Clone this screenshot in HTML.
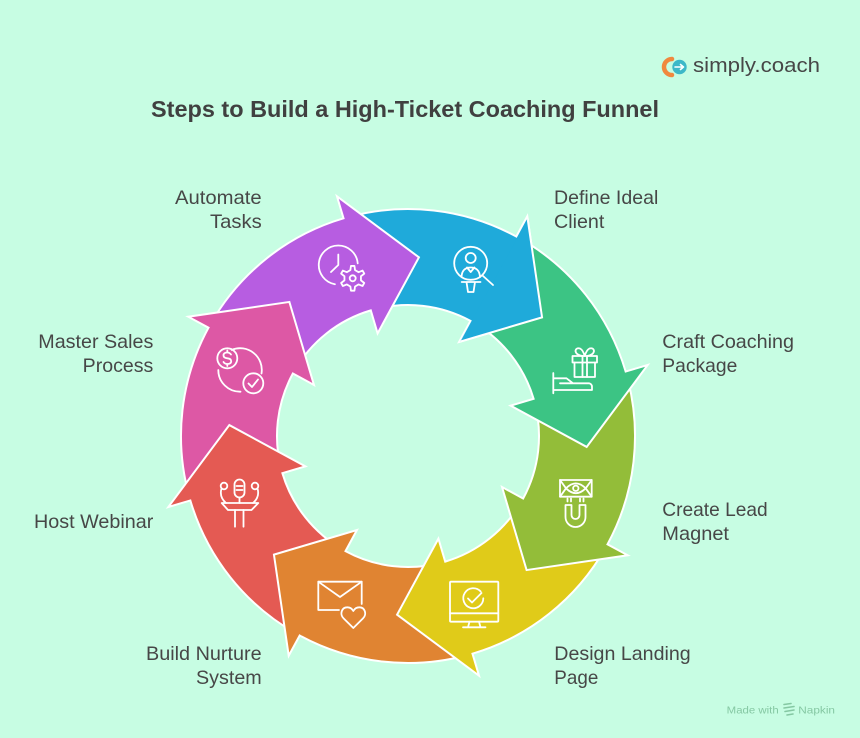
<!DOCTYPE html>
<html>
<head>
<meta charset="utf-8">
<style>
  html, body { margin: 0; padding: 0; background: #c7fde3; }
  svg { display: block; }
  text { font-family: "Liberation Sans", Arial, sans-serif; }
</style>
</head>
<body>
<svg width="860" height="738" viewBox="0 0 860 738" xmlns="http://www.w3.org/2000/svg">
  <rect x="0" y="0" width="860" height="738" fill="#c7fde3"/>
  <defs>
    <clipPath id="hc">
      <polygon points="0,0 282.6,-100.6 340,-20 340,40 0,5"/>
    </clipPath>
  </defs>

  <!-- Logo -->
  <path d="M672 59 A8 8 0 0 0 672 75" stroke="#f0883e" stroke-width="4.5" fill="none" stroke-linecap="round"/>
  <circle cx="679.5" cy="67" r="7.2" fill="#3db8c8"/>
  <path d="M675 67 H683.5 M680.5 64.5 L683.5 67 L680.5 69.5" stroke="#ffffff" stroke-width="1.6" fill="none" stroke-linecap="round" stroke-linejoin="round"/>
  <text x="693" y="72" font-size="20" fill="#474747" textLength="127" lengthAdjust="spacingAndGlyphs">simply.coach</text>

  <!-- Title -->
  <text x="151" y="117" font-size="23" font-weight="bold" fill="#404040" textLength="508" lengthAdjust="spacingAndGlyphs">Steps to Build a High-Ticket Coaching Funnel</text>

  <!-- Arrows -->
  <g stroke="#ffffff" stroke-width="2" stroke-linejoin="miter">
    <path fill="#1faada" transform="translate(408 436) rotate(-41.5)" d="M57.43,-117.74 L99.51,-204.03 A227,227 0 0 1 213.31,-77.64 L234.92,-85.51 L179,0 L100.55,-36.60 L123.10,-44.81 A131,131 0 0 0 57.43,-117.74 Z"/>
    <path fill="#b75de1" transform="translate(408 436) rotate(-86.5)" d="M57.43,-117.74 L99.51,-204.03 A227,227 0 0 1 213.31,-77.64 L234.92,-85.51 L179,0 L100.55,-36.60 L123.10,-44.81 A131,131 0 0 0 57.43,-117.74 Z"/>
    <path fill="#dd58a5" transform="translate(408 436) rotate(228.5)" d="M57.43,-117.74 L99.51,-204.03 A227,227 0 0 1 213.31,-77.64 L234.92,-85.51 L179,0 L100.55,-36.60 L123.10,-44.81 A131,131 0 0 0 57.43,-117.74 Z"/>
    <path fill="#e45a53" transform="translate(408 436) rotate(183.5)" d="M57.43,-117.74 L99.51,-204.03 A227,227 0 0 1 213.31,-77.64 L234.92,-85.51 L179,0 L100.55,-36.60 L123.10,-44.81 A131,131 0 0 0 57.43,-117.74 Z"/>
    <path fill="#e08432" transform="translate(408 436) rotate(138.5)" d="M57.43,-117.74 L99.51,-204.03 A227,227 0 0 1 213.31,-77.64 L234.92,-85.51 L179,0 L100.55,-36.60 L123.10,-44.81 A131,131 0 0 0 57.43,-117.74 Z"/>
    <path fill="#e0cb19" transform="translate(408 436) rotate(93.5)" d="M57.43,-117.74 L99.51,-204.03 A227,227 0 0 1 213.31,-77.64 L234.92,-85.51 L179,0 L100.55,-36.60 L123.10,-44.81 A131,131 0 0 0 57.43,-117.74 Z"/>
    <path fill="#93bd39" transform="translate(408 436) rotate(48.5)" d="M57.43,-117.74 L99.51,-204.03 A227,227 0 0 1 213.31,-77.64 L234.92,-85.51 L179,0 L100.55,-36.60 L123.10,-44.81 A131,131 0 0 0 57.43,-117.74 Z"/>
    <path fill="#3cc484" transform="translate(408 436) rotate(3.5)" d="M57.43,-117.74 L99.51,-204.03 A227,227 0 0 1 213.31,-77.64 L234.92,-85.51 L179,0 L100.55,-36.60 L123.10,-44.81 A131,131 0 0 0 57.43,-117.74 Z"/>
    <g transform="translate(408 436) rotate(-41.5)">
      <g clip-path="url(#hc)">
        <path fill="#1faada" d="M57.43,-117.74 L99.51,-204.03 A227,227 0 0 1 213.31,-77.64 L234.92,-85.51 L179,0 L100.55,-36.60 L123.10,-44.81 A131,131 0 0 0 57.43,-117.74 Z"/>
      </g>
    </g>
  </g>

  <!-- Icons -->
  <g stroke="#ffffff" stroke-width="1.8" fill="none" stroke-linecap="round" stroke-linejoin="round">
    <!-- Automate: clock + gear -->
    <path d="M357.7 263.3 A19.5 19.5 0 1 0 334.9 284.2"/>
    <path d="M338.3 254.5 V265 L331 272"/>
    <g transform="translate(352.7 278.3)">
      <path d="M-2.34,-8.17 L-1.74,-12.38 L1.74,-12.38 L2.34,-8.17 L5.90,-6.11 L9.85,-7.70 L11.59,-4.68 L8.25,-2.06 L8.25,2.06 L11.59,4.68 L9.85,7.70 L5.90,6.11 L2.34,8.17 L1.74,12.38 L-1.74,12.38 L-2.34,8.17 L-5.90,6.11 L-9.85,7.70 L-11.59,4.68 L-8.25,2.06 L-8.25,-2.06 L-11.59,-4.68 L-9.85,-7.70 L-5.90,-6.11 Z"/>
      <circle cx="0" cy="0" r="3"/>
    </g>

    <!-- Define Ideal Client: person in magnifier -->
    <circle cx="470.7" cy="263.3" r="16.5"/>
    <path d="M482.5 275.5 L493 285"/>
    <circle cx="470.7" cy="258" r="5"/>
    <path d="M461.5 277 Q462 267.5 470.7 267.5 Q479.4 267.5 480 277"/>
    <path d="M467 267.5 L470.7 272 L474.4 267.5"/>
    <path d="M461.7 282 H480.5 M466.5 282 L468 292 H473.5 L475 282"/>

    <!-- Craft Coaching Package: gift + hand -->
    <rect x="572.5" y="356" width="24.5" height="6.5"/>
    <path d="M574.5 362.5 V377 H595 V362.5"/>
    <path d="M582.5 356 V377 M587 356 V377"/>
    <path d="M582.5 356 Q576 355 575.5 351 Q576 347.5 580 348.5 Q583 350 584.7 356 Q586.5 350 589.5 348.5 Q593.5 347.5 594 351 Q593.5 355 587 356"/>
    <path d="M553.3 373 V393.3 M553.3 378.3 H566.5 L573 383.3 H589 Q592 384 592 387 V390 H553.3 M560 383.3 H573"/>

    <!-- Create Lead Magnet: money eye + magnet -->
    <rect x="560" y="480" width="31.7" height="16.7"/>
    <path d="M560 480 L566 488.3 L560 496.7 M591.7 480 L585.7 488.3 L591.7 496.7 M566 488.3 Q575.8 478.5 585.7 488.3 Q575.8 498 566 488.3"/>
    <circle cx="575.8" cy="488.3" r="2.7"/>
    <path d="M565.5 505 V517 A10 10 0 0 0 585.5 517 V505 H579.5 V515 A4 4 0 0 1 571.5 515 V505 Z"/>
    <path d="M567.5 498.5 V501.5 M571 498.5 V501.5 M580 498.5 V501.5 M583.5 498.5 V501.5"/>

    <!-- Design Landing Page: monitor with check -->
    <rect x="450" y="581.7" width="48.3" height="40" rx="1"/>
    <path d="M450 613.3 H498.3 M469.5 621.7 L468 627.3 M479 621.7 L480.5 627.3 M463 627.3 H485.5"/>
    <path d="M480.7 591.5 A10 10 0 1 0 483.3 598.3"/>
    <path d="M468 598.5 L472 602.5 L481.5 593"/>

    <!-- Build Nurture System: envelope + heart -->
    <path d="M339 610 H318.3 V581.7 H361.7 V604"/>
    <path d="M318.3 581.7 L340 597 L361.7 581.7"/>
    <path d="M353.3 628 L343.6 618.4 C339.5 614.3 341.5 607.3 347.3 607.3 C350.3 607.3 352.3 609.2 353.3 611 C354.3 609.2 356.3 607.3 359.3 607.3 C365.1 607.3 367.1 614.3 363 618.4 Z"/>

    <!-- Host Webinar: mic podium -->
    <rect x="234.5" y="479.5" width="10" height="18" rx="5"/>
    <path d="M236.5 486 H242.5 M236.5 490 H242.5"/>
    <path d="M239.5 497.5 V503"/>
    <path d="M221.7 503 H258.3 L251.5 510 H228 Z"/>
    <path d="M235 510 V526.7 M243.5 510 V526.7"/>
    <circle cx="224" cy="486" r="3.3"/>
    <circle cx="255" cy="486" r="3.3"/>
    <path d="M221.5 488.5 Q219 497 226 503 M257.5 488.5 Q260 497 253 503"/>

    <!-- Master Sales Process: dollar + check cycle -->
    <circle cx="227.3" cy="358.3" r="10"/>
    <path d="M231 354.5 Q229.5 352.5 227.3 352.5 Q223.5 352.5 223.5 355.4 Q223.5 358 227.3 358.3 Q231.2 358.6 231.2 361.3 Q231.2 364 227.3 364 Q224.8 364 223.5 362 M227.3 350.5 V352.5 M227.3 364 V366"/>
    <circle cx="253.3" cy="383.3" r="10"/>
    <path d="M248.5 383.5 L252 387 L258 379.5"/>
    <path d="M231.7 349.9 A21.7 21.7 0 0 1 261.5 373.5 M218.3 370 A21.7 21.7 0 0 0 240.5 391.7"/>
  </g>

  <!-- Labels -->
  <g font-size="19.5" fill="#474747">
    <text x="175" y="204" textLength="86.7" lengthAdjust="spacingAndGlyphs">Automate</text>
    <text x="210" y="228" textLength="51.7" lengthAdjust="spacingAndGlyphs">Tasks</text>
    <text x="554" y="204" textLength="104.3" lengthAdjust="spacingAndGlyphs">Define Ideal</text>
    <text x="554" y="228" textLength="50.3" lengthAdjust="spacingAndGlyphs">Client</text>
    <text x="38.3" y="348" textLength="115" lengthAdjust="spacingAndGlyphs">Master Sales</text>
    <text x="82.7" y="372" textLength="70.6" lengthAdjust="spacingAndGlyphs">Process</text>
    <text x="662.3" y="348" textLength="131.7" lengthAdjust="spacingAndGlyphs">Craft Coaching</text>
    <text x="662.3" y="372" textLength="75" lengthAdjust="spacingAndGlyphs">Package</text>
    <text x="34" y="528" textLength="119.3" lengthAdjust="spacingAndGlyphs">Host Webinar</text>
    <text x="662.3" y="516" textLength="105.4" lengthAdjust="spacingAndGlyphs">Create Lead</text>
    <text x="662.3" y="540" textLength="66.7" lengthAdjust="spacingAndGlyphs">Magnet</text>
    <text x="146" y="660" textLength="115.7" lengthAdjust="spacingAndGlyphs">Build Nurture</text>
    <text x="196" y="684" textLength="65.7" lengthAdjust="spacingAndGlyphs">System</text>
    <text x="554.3" y="660" textLength="136.4" lengthAdjust="spacingAndGlyphs">Design Landing</text>
    <text x="554.3" y="684" textLength="44" lengthAdjust="spacingAndGlyphs">Page</text>
  </g>

  <!-- Made with Napkin -->
  <g fill="#85c8a3">
    <text x="726.7" y="713.5" font-size="10.5" textLength="52" lengthAdjust="spacingAndGlyphs">Made with</text>
    <text x="798.3" y="713.5" font-size="10.5" textLength="36.7" lengthAdjust="spacingAndGlyphs">Napkin</text>
  </g>
  <path d="M784 704.5 L791 703.5 M784 708 L794 706.5 M785 711.5 L794 710 M787 715 L793 714" stroke="#85c8a3" stroke-width="1.6" fill="none" stroke-linecap="round"/>
</svg>
</body>
</html>
